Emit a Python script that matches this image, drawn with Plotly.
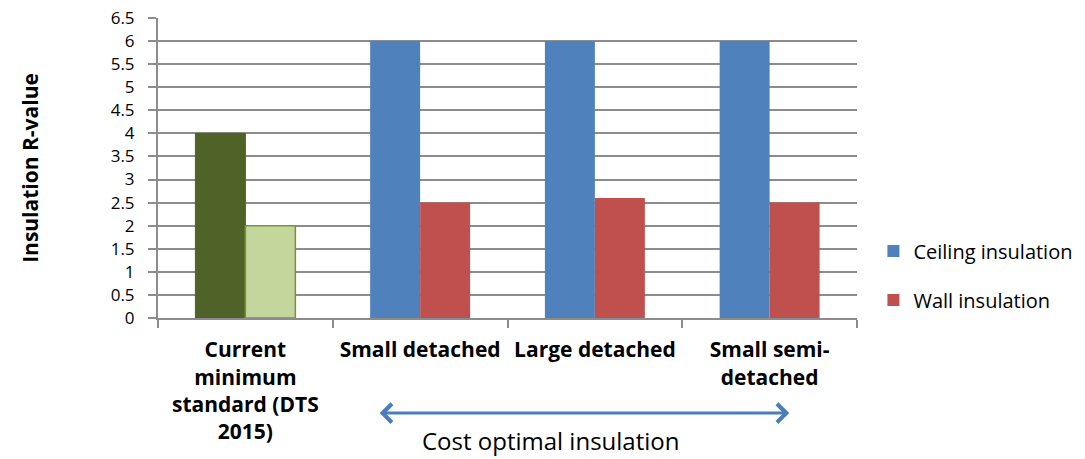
import plotly.graph_objects as go

# Building types on the x axis
categories = [
    "Current<br>minimum<br>standard (DTS<br>2015)",
    "Small detached",
    "Large detached",
    "Small semi-<br>detached",
]

# Current minimum standard (DTS 2015)
standard_ceiling = [4.0, None, None, None]
standard_wall = [2.0, None, None, None]

# Cost optimal insulation levels
ceiling_values = [None, 6.0, 6.0, 6.0]
wall_values = [None, 2.5, 2.6, 2.5]

y_ticks = [0, 0.5, 1, 1.5, 2, 2.5, 3, 3.5, 4, 4.5, 5, 5.5, 6, 6.5]

FONT = "Open Sans, Carlito, Calibri, sans-serif"
GRID = "#8c8c8c"

fig = go.Figure()

fig.add_trace(go.Bar(
    x=categories, y=standard_ceiling, offsetgroup="ceiling",
    marker=dict(color="#4f6228", line=dict(color="#4f6228", width=1)),
    showlegend=False, hoverinfo="skip",
))
fig.add_trace(go.Bar(
    x=categories, y=standard_wall, offsetgroup="wall",
    marker=dict(color="#c3d69b", line=dict(color="#77933c", width=1.5)),
    showlegend=False, hoverinfo="skip",
))
fig.add_trace(go.Bar(
    x=categories, y=ceiling_values, offsetgroup="ceiling",
    name="Ceiling insulation", legendgroup="c",
    marker=dict(color="#4f81bd", line=dict(width=0)),
))
fig.add_trace(go.Bar(
    x=categories, y=wall_values, offsetgroup="wall",
    name="Wall insulation", legendgroup="w",
    marker=dict(color="#c0504d", line=dict(width=0)),
))

fig.update_layout(
    width=1085, height=459,
    margin=dict(l=158, r=228, t=18, b=141, autoexpand=False),
    paper_bgcolor="white", plot_bgcolor="white",
    barmode="group", bargap=0.428, bargroupgap=0,
    font=dict(family=FONT, size=18, color="#000000"),
    legend=dict(
        xref="container", yref="container",
        x=0.805, y=0.40, xanchor="left", yanchor="middle",
        traceorder="grouped", tracegroupgap=20,
        font=dict(family=FONT, size=20),
        bgcolor="rgba(0,0,0,0)",
    ),
    xaxis=dict(
        type="category", showgrid=False,
        showline=True, linecolor=GRID, linewidth=2,
        ticks="outside", tickson="boundaries", ticklen=8, tickwidth=2, tickcolor=GRID,
        ticklabelstandoff=12,
        tickfont=dict(family=FONT, size=21, color="#000000", weight="bold"),
    ),
    yaxis=dict(
        range=[0, 6.5], tickvals=y_ticks,
        ticktext=[f"{v:g}" for v in y_ticks],
        showgrid=True, gridcolor=GRID, gridwidth=2,
        showline=True, linecolor=GRID, linewidth=2,
        ticks="outside", ticklen=8, tickwidth=2, tickcolor=GRID,
        ticklabelstandoff=10,
        tickfont=dict(family=FONT, size=17, color="#000000"),
        zeroline=False,
        title=dict(text="<b>Insulation R-value</b>", font=dict(family=FONT, size=21), standoff=66),
    ),
    annotations=[
        dict(
            xref="x domain", yref="y domain", axref="x domain", ayref="y domain",
            x=0.903, y=-0.317, ax=0.315, ay=-0.317,
            text="", showarrow=True, arrowside="end+start",
            arrowhead=4, arrowsize=1.2, arrowwidth=3, arrowcolor="#4a7ebb",
        ),
        dict(
            xref="x domain", yref="y domain", x=0.561, y=-0.407,
            text="Cost optimal insulation", showarrow=False,
            xanchor="center", yanchor="middle",
            font=dict(family=FONT, size=24, color="#000000"),
        ),
    ],
)

fig.write_html("out.html")
